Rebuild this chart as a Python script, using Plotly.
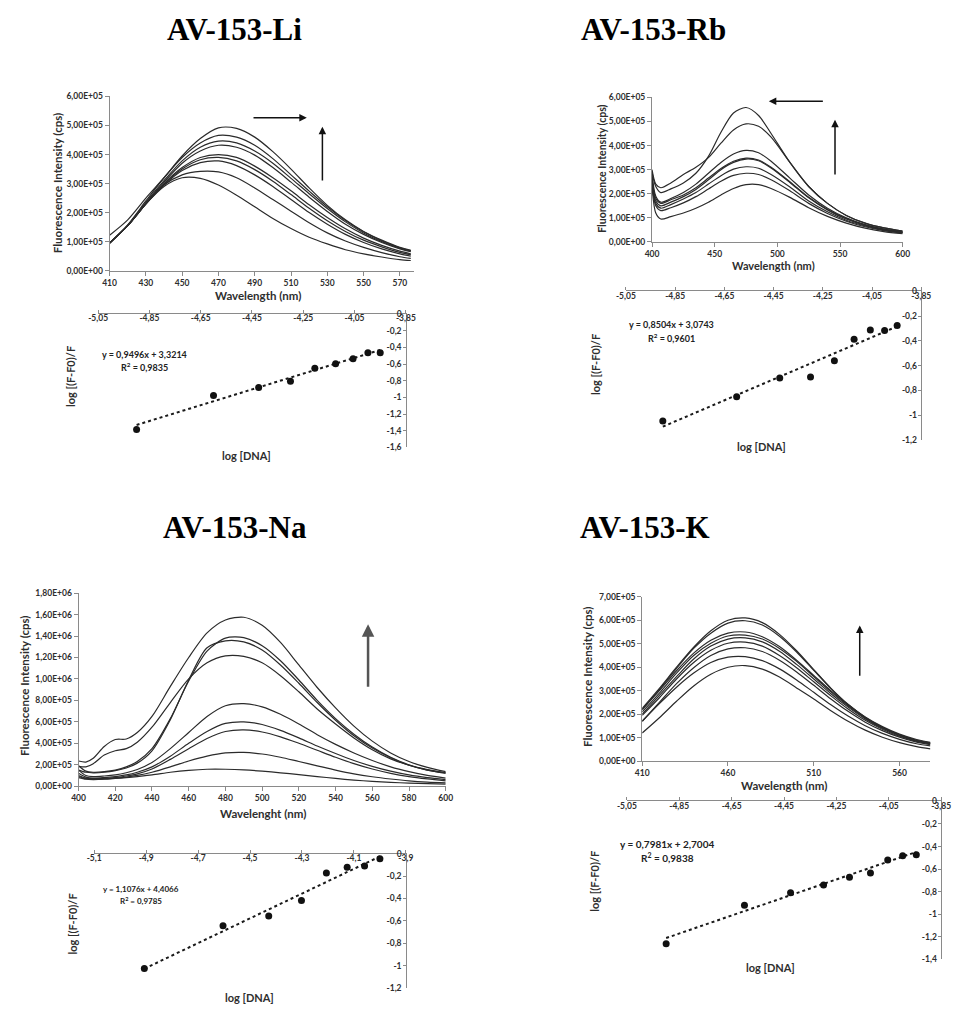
import plotly.graph_objects as go

FIG_W, FIG_H = 959, 1010

# ---------------- AV-153-Li ----------------
li_wavelength = [410, 420, 430, 440, 450, 460, 470, 480, 490, 500, 510, 520, 530, 540, 550, 560, 570, 576]
# emission intensity, units of 1e5 cps
li_intensity = [
    [1.22, 1.75, 2.50, 3.20, 3.95, 4.55, 4.92, 4.90, 4.60, 4.10, 3.50, 2.85, 2.25, 1.75, 1.35, 1.05, 0.80, 0.70],
    [0.95, 1.58, 2.40, 3.20, 3.90, 4.40, 4.66, 4.60, 4.32, 3.86, 3.30, 2.74, 2.20, 1.73, 1.34, 1.03, 0.79, 0.69],
    [0.95, 1.55, 2.35, 3.10, 3.78, 4.25, 4.46, 4.40, 4.12, 3.70, 3.18, 2.65, 2.14, 1.68, 1.30, 1.00, 0.77, 0.67],
    [0.95, 1.55, 2.32, 3.05, 3.70, 4.12, 4.32, 4.25, 3.98, 3.55, 3.05, 2.53, 2.04, 1.60, 1.25, 0.97, 0.75, 0.65],
    [0.95, 1.55, 2.30, 3.00, 3.55, 3.90, 4.00, 3.90, 3.60, 3.20, 2.75, 2.27, 1.83, 1.44, 1.12, 0.87, 0.67, 0.58],
    [0.95, 1.55, 2.30, 2.98, 3.50, 3.82, 3.90, 3.78, 3.48, 3.08, 2.62, 2.15, 1.72, 1.35, 1.05, 0.82, 0.63, 0.55],
    [0.95, 1.55, 2.30, 2.95, 3.45, 3.72, 3.78, 3.62, 3.30, 2.90, 2.45, 2.00, 1.60, 1.25, 0.97, 0.75, 0.58, 0.50],
    [0.95, 1.55, 2.30, 2.95, 3.30, 3.42, 3.40, 3.20, 2.85, 2.45, 2.05, 1.65, 1.30, 1.02, 0.80, 0.62, 0.48, 0.42],
    [0.95, 1.55, 2.30, 2.90, 3.20, 3.18, 2.95, 2.60, 2.20, 1.80, 1.45, 1.15, 0.92, 0.72, 0.58, 0.47, 0.38, 0.35],
]
li_log_dna = [-4.90, -4.60, -4.424, -4.30, -4.205, -4.124, -4.056, -3.998, -3.95]
li_log_f = [-1.386, -0.976, -0.881, -0.806, -0.651, -0.596, -0.536, -0.464, -0.464]
li_fit = (0.9496, 3.3214, 0.9835)

# ---------------- AV-153-Rb ----------------
rb_wavelength = [400, 403, 407, 415, 425, 435, 445, 455, 465, 475, 485, 495, 510, 525, 540, 555, 570, 585, 600]
rb_intensity = [
    [2.90, 2.30, 2.05, 2.20, 2.45, 2.85, 3.55, 4.55, 5.35, 5.58, 5.25, 4.50, 3.30, 2.30, 1.60, 1.10, 0.78, 0.58, 0.45],
    [3.00, 2.40, 2.25, 2.45, 2.80, 3.10, 3.50, 4.10, 4.65, 4.90, 4.80, 4.35, 3.30, 2.30, 1.60, 1.10, 0.78, 0.58, 0.45],
    [2.80, 1.90, 1.65, 1.80, 2.05, 2.40, 2.85, 3.30, 3.65, 3.80, 3.70, 3.35, 2.65, 1.95, 1.40, 1.00, 0.72, 0.53, 0.42],
    [2.70, 1.80, 1.60, 1.75, 1.95, 2.25, 2.65, 3.05, 3.35, 3.48, 3.40, 3.10, 2.50, 1.85, 1.35, 0.97, 0.70, 0.52, 0.40],
    [2.60, 1.70, 1.50, 1.65, 1.88, 2.18, 2.58, 3.00, 3.30, 3.44, 3.37, 3.07, 2.47, 1.83, 1.33, 0.95, 0.69, 0.51, 0.40],
    [2.50, 1.60, 1.40, 1.55, 1.78, 2.05, 2.40, 2.75, 3.02, 3.12, 3.06, 2.80, 2.28, 1.70, 1.25, 0.90, 0.66, 0.49, 0.38],
    [2.40, 1.50, 1.30, 1.42, 1.62, 1.88, 2.20, 2.52, 2.76, 2.85, 2.80, 2.58, 2.12, 1.60, 1.18, 0.86, 0.63, 0.47, 0.37],
    [2.30, 1.20, 0.95, 1.05, 1.20, 1.40, 1.65, 1.95, 2.22, 2.38, 2.38, 2.22, 1.85, 1.42, 1.06, 0.78, 0.57, 0.43, 0.34],
]
rb_log_dna = [-4.90, -4.60, -4.425, -4.30, -4.203, -4.123, -4.057, -3.999, -3.948]
rb_log_f = [-1.046, -0.851, -0.699, -0.691, -0.560, -0.387, -0.312, -0.315, -0.275]
rb_fit = (0.8504, 3.0743, 0.9601)

# ---------------- AV-153-Na ----------------
na_wavelength = [400, 404, 408, 414, 420, 426, 432, 440, 450, 460, 470, 480, 490, 500, 510, 520, 530, 540, 550, 560, 570, 580, 590, 600]
na_intensity = [
    [2.35, 2.25, 2.60, 3.70, 4.35, 4.40, 5.00, 6.50, 9.30, 12.0, 14.3, 15.5, 15.75, 15.0, 13.4, 11.3, 9.20, 7.30, 5.60, 4.20, 3.10, 2.30, 1.75, 1.35],
    [1.85, 1.80, 2.10, 2.90, 3.30, 3.50, 4.10, 5.50, 7.80, 10.0, 11.5, 12.15, 12.1, 11.5, 10.3, 8.80, 7.20, 5.80, 4.50, 3.40, 2.55, 1.95, 1.50, 1.20],
    [1.90, 1.40, 1.30, 1.35, 1.50, 1.80, 2.30, 3.50, 6.30, 9.80, 12.6, 13.8, 13.85, 13.1, 11.7, 9.90, 8.00, 6.30, 4.85, 3.65, 2.70, 2.00, 1.55, 1.25],
    [1.50, 1.30, 1.25, 1.30, 1.45, 1.70, 2.15, 3.30, 6.20, 9.90, 12.9, 13.55, 13.45, 12.7, 11.3, 9.60, 7.80, 6.15, 4.70, 3.55, 2.65, 1.95, 1.50, 1.25],
    [1.50, 1.00, 0.90, 0.95, 1.05, 1.25, 1.55, 2.20, 3.50, 5.00, 6.50, 7.50, 7.70, 7.40, 6.70, 5.80, 4.80, 3.90, 3.10, 2.40, 1.80, 1.35, 1.00, 0.75],
    [1.20, 0.85, 0.75, 0.80, 0.90, 1.05, 1.30, 1.80, 2.80, 4.00, 5.10, 5.85, 6.00, 5.75, 5.20, 4.50, 3.75, 3.05, 2.40, 1.85, 1.40, 1.05, 0.80, 0.62],
    [1.00, 0.75, 0.70, 0.72, 0.80, 0.95, 1.15, 1.60, 2.50, 3.50, 4.45, 5.10, 5.25, 5.05, 4.60, 4.00, 3.35, 2.70, 2.10, 1.60, 1.20, 0.90, 0.68, 0.50],
    [0.90, 0.70, 0.65, 0.68, 0.75, 0.85, 1.00, 1.30, 1.80, 2.35, 2.80, 3.10, 3.15, 3.00, 2.70, 2.30, 1.90, 1.50, 1.15, 0.88, 0.67, 0.50, 0.38, 0.30],
    [0.80, 0.65, 0.62, 0.65, 0.72, 0.80, 0.90, 1.05, 1.30, 1.48, 1.58, 1.58, 1.52, 1.40, 1.25, 1.08, 0.90, 0.72, 0.57, 0.45, 0.36, 0.29, 0.24, 0.20],
]
na_log_dna = [-4.907, -4.604, -4.428, -4.302, -4.206, -4.126, -4.059, -4.000]
na_log_f = [-1.026, -0.645, -0.556, -0.417, -0.172, -0.121, -0.110, -0.044]
na_fit = (1.1076, 4.4066, 0.9785)

# ---------------- AV-153-K ----------------
k_wavelength = [410, 420, 430, 440, 450, 460, 470, 480, 490, 500, 510, 520, 530, 540, 550, 560, 570, 578]
k_intensity = [
    [2.25, 3.10, 4.00, 4.85, 5.55, 6.00, 6.10, 5.90, 5.40, 4.70, 3.90, 3.10, 2.40, 1.85, 1.42, 1.10, 0.87, 0.75],
    [2.20, 3.05, 3.95, 4.80, 5.45, 5.88, 5.98, 5.80, 5.32, 4.65, 3.87, 3.10, 2.42, 1.87, 1.44, 1.12, 0.88, 0.77],
    [2.20, 3.00, 3.85, 4.60, 5.15, 5.45, 5.50, 5.30, 4.88, 4.30, 3.65, 3.00, 2.40, 1.88, 1.47, 1.15, 0.92, 0.80],
    [2.10, 2.90, 3.75, 4.50, 5.02, 5.33, 5.37, 5.20, 4.80, 4.25, 3.60, 2.95, 2.35, 1.84, 1.43, 1.12, 0.89, 0.78],
    [2.00, 2.80, 3.60, 4.35, 4.90, 5.20, 5.25, 5.08, 4.68, 4.12, 3.50, 2.87, 2.30, 1.80, 1.40, 1.10, 0.87, 0.76],
    [1.95, 2.70, 3.50, 4.20, 4.72, 5.02, 5.07, 4.90, 4.50, 3.98, 3.38, 2.78, 2.22, 1.74, 1.36, 1.06, 0.84, 0.73],
    [1.70, 2.50, 3.30, 3.98, 4.50, 4.78, 4.83, 4.67, 4.30, 3.80, 3.23, 2.65, 2.12, 1.66, 1.30, 1.02, 0.81, 0.70],
    [1.70, 2.45, 3.15, 3.75, 4.20, 4.43, 4.45, 4.28, 3.93, 3.46, 2.93, 2.40, 1.92, 1.51, 1.18, 0.93, 0.74, 0.65],
    [1.20, 1.85, 2.55, 3.20, 3.70, 4.00, 4.07, 3.92, 3.58, 3.12, 2.65, 2.15, 1.70, 1.32, 1.02, 0.79, 0.62, 0.52],
]
k_log_dna = [-4.900, -4.601, -4.425, -4.299, -4.200, -4.120, -4.054, -3.997, -3.945]
k_log_f = [-1.262, -0.920, -0.810, -0.740, -0.672, -0.634, -0.520, -0.482, -0.473]
k_fit = (0.7981, 2.7004, 0.9838)

# ---------------- tick labels ----------------
li_wl_ticks = [410, 430, 450, 470, 490, 510, 530, 550, 570]
rb_wl_ticks = [400, 450, 500, 550, 600]
na_wl_ticks = [400, 420, 440, 460, 480, 500, 520, 540, 560, 580, 600]
k_wl_ticks = [410, 460, 510, 560]
li_int_ticks = [0, 1e5, 2e5, 3e5, 4e5, 5e5, 6e5]
li_int_labels = ["0,00E+00", "1,00E+05", "2,00E+05", "3,00E+05", "4,00E+05", "5,00E+05", "6,00E+05"]
na_int_ticks = [0, 2e5, 4e5, 6e5, 8e5, 1e6, 1.2e6, 1.4e6, 1.6e6, 1.8e6]
na_int_labels = ["0,00E+00", "2,00E+05", "4,00E+05", "6,00E+05", "8,00E+05",
                 "1,00E+06", "1,20E+06", "1,40E+06", "1,60E+06", "1,80E+06"]
k_int_ticks = [0, 1e5, 2e5, 3e5, 4e5, 5e5, 6e5, 7e5]
k_int_labels = ["0,00E+00", "1,00E+05", "2,00E+05", "3,00E+05", "4,00E+05", "5,00E+05", "6,00E+05", "7,00E+05"]
dna_ticks_a = [-5.05, -4.85, -4.65, -4.45, -4.25, -4.05, -3.85]
dna_labels_a = ["-5,05", "-4,85", "-4,65", "-4,45", "-4,25", "-4,05", "-3,85"]
dna_ticks_b = [-5.1, -4.9, -4.7, -4.5, -4.3, -4.1, -3.9]
dna_labels_b = ["-5,1", "-4,9", "-4,7", "-4,5", "-4,3", "-4,1", "-3,9"]
logf_ticks = [0, -0.2, -0.4, -0.6, -0.8, -1.0, -1.2, -1.4, -1.6]
logf_labels = ["0", "-0,2", "-0,4", "-0,6", "-0,8", "-1", "-1,2", "-1,4", "-1,6"]

# ---------------- helpers ----------------
AXIS_GREY = "#8a8a8a"
TEXT_GREY = "#2e2e2e"
EXCEL_FONT = "Lato"


def xdom(left, right):
    return [left / FIG_W, right / FIG_W]


def ydom(top, bottom):
    return [1 - bottom / FIG_H, 1 - top / FIG_H]


def px(x):
    return x / FIG_W


def py(y):
    return 1 - y / FIG_H


fig = go.Figure()
layout = {}
annotations = []


def spectrum_panel(n, wl, curves, xr, xdomain, ydomain, xticks, yr, yticks, ylabels):
    xa, ya = f"x{n}", f"y{n}"
    for c in curves:
        fig.add_trace(go.Scatter(
            x=wl, y=[v * 1e5 for v in c], mode="lines", xaxis=xa, yaxis=ya,
            line=dict(color="#2b2b2b", width=1.2, shape="spline", smoothing=0.8),
            showlegend=False, hoverinfo="skip"))
    common = dict(showline=True, linecolor=AXIS_GREY, linewidth=1, ticks="outside",
                  ticklen=4, tickcolor=AXIS_GREY, showgrid=False, zeroline=False,
                  tickfont=dict(family=EXCEL_FONT, size=8.5, color=TEXT_GREY, weight="bold"))
    layout[f"xaxis{n}"] = dict(common, domain=xdomain, anchor=ya, range=xr,
                               tickmode="array", tickvals=xticks, ticktext=[str(t) for t in xticks])
    layout[f"yaxis{n}"] = dict(common, domain=ydomain, anchor=xa, range=yr,
                               tickmode="array", tickvals=yticks, ticktext=ylabels)


def binding_panel(n, xs, ys, fit, xr, xdomain, ydomain, xticks, xlabels, ybottom):
    xa, ya = f"x{n}", f"y{n}"
    slope, icpt, _ = fit
    x0, x1 = min(xs), max(xs)
    fig.add_trace(go.Scatter(
        x=[x0, x1], y=[slope * x0 + icpt, slope * x1 + icpt], mode="lines",
        xaxis=xa, yaxis=ya, line=dict(color="#1a1a1a", width=2, dash="dot"),
        showlegend=False, hoverinfo="skip", cliponaxis=True))
    fig.add_trace(go.Scatter(
        x=xs, y=ys, mode="markers", xaxis=xa, yaxis=ya,
        marker=dict(color="#111111", size=7), showlegend=False, hoverinfo="skip",
        cliponaxis=False))
    nt = int(round(-ybottom / 0.2)) + 1
    common = dict(showline=True, linecolor=AXIS_GREY, linewidth=1, showgrid=False,
                  zeroline=False, ticklabeloverflow="allow",
                  tickfont=dict(family=EXCEL_FONT, size=8.5, color=TEXT_GREY, weight="bold"))
    layout[f"xaxis{n}"] = dict(common, domain=xdomain, anchor=ya, range=xr, side="top",
                               ticks="outside", ticklen=3, tickcolor=AXIS_GREY,
                               ticklabelposition="inside", tickmode="array",
                               tickvals=xticks, ticktext=xlabels)
    layout[f"yaxis{n}"] = dict(common, domain=ydomain, anchor=xa, range=[ybottom, 0],
                               side="right", ticks="inside", ticklen=3, tickcolor=AXIS_GREY,
                               ticklabelposition="inside", tickmode="array",
                               tickvals=logf_ticks[:nt], ticktext=logf_labels[:nt])


def text(x, y, s, size, family=EXCEL_FONT, bold=False, angle=0, anchor="center", color=TEXT_GREY):
    annotations.append(dict(
        x=px(x), y=py(y), xref="paper", yref="paper", text=s, showarrow=False,
        textangle=angle, xanchor=anchor, yanchor="middle",
        font=dict(family=family, size=size, color=color, weight="bold" if bold else "normal")))


def equation(x, y, fit, size):
    slope, icpt, r2 = fit
    line1 = f"y = {slope:.4f}x + {icpt:.4f}".replace(".", ",")
    line2 = f"R<sup>2</sup> = {r2:.4f}".replace(".", ",")
    text(x, y, line1, size, bold=True, color="#222")
    text(x, y + size * 1.45, line2, size, bold=True, color="#222")


def arrow(n, tail, head, color="#111", width=1.5):
    annotations.append(dict(
        xref=f"x{n}", yref=f"y{n}", axref=f"x{n}", ayref=f"y{n}",
        x=head[0], y=head[1], ax=tail[0], ay=tail[1], text="", showarrow=True,
        arrowhead=2, arrowsize=1, arrowwidth=width, arrowcolor=color))


# ---- panels ----
spectrum_panel(1, li_wavelength, li_intensity, [410, 578], xdom(101.7, 413), ydom(92.4, 268.3),
               li_wl_ticks, [0, 6e5], li_int_ticks, li_int_labels)
binding_panel(2, li_log_dna, li_log_f, li_fit, [-5.05, -3.85], xdom(90, 404.3), ydom(312.3, 446.7),
              dna_ticks_a, dna_labels_a, -1.6)
spectrum_panel(3, rb_wavelength, rb_intensity, [400, 600], xdom(655.7, 911.7), ydom(93.3, 239.3),
               rb_wl_ticks, [0, 6e5], li_int_ticks, li_int_labels)
binding_panel(4, rb_log_dna, rb_log_f, rb_fit, [-5.05, -3.85], xdom(629, 930.7), ydom(289.3, 439.3),
              dna_ticks_a, dna_labels_a, -1.2)
spectrum_panel(5, na_wavelength, na_intensity, [400, 600], xdom(70, 445), ydom(594, 789),
               na_wl_ticks, [0, 1.8e6], na_int_ticks, na_int_labels)
binding_panel(6, na_log_dna, na_log_f, na_fit, [-5.1, -3.9], xdom(86, 404.3), ydom(857.3, 992.7),
              dna_ticks_b, dna_labels_b, -1.2)
spectrum_panel(7, k_wavelength, k_intensity, [410, 578], xdom(645.7, 940), ydom(597.7, 763.7),
               k_wl_ticks, [0, 7e5], k_int_ticks, k_int_labels)
binding_panel(8, k_log_dna, k_log_f, k_fit, [-5.05, -3.85], xdom(630, 951), ydom(804.3, 964),
              dna_ticks_a, dna_labels_a, -1.4)

# ---- titles ----
SERIF = "Liberation Serif"
text(158, 25, "AV-153-Li", 31, family=SERIF, bold=True, anchor="left", color="#000")
text(581, 25, "AV-153-Rb", 31, family=SERIF, bold=True, anchor="left", color="#000")
text(154, 528, "AV-153-Na", 31, family=SERIF, bold=True, anchor="left", color="#000")
text(580, 528, "AV-153-K", 31, family=SERIF, bold=True, anchor="left", color="#000")

# ---- axis titles ----
SPEC_T = 11.5
text(48, 180, "Fluorescence Intensity (cps)", SPEC_T, bold=True, angle=-90)
text(253, 293, "Wavelength (nm)", SPEC_T, bold=True)
text(62, 375, "log [(F-F0)/F", 11, bold=True, angle=-90)
text(242, 455, "log [DNA]", 11, bold=True)

text(605, 165, "Fluorescence Intensity (cps)", 10.5, bold=True, angle=-90)
text(780, 263, "Wavelength (nm)", 11, bold=True)
text(598, 363, "log [(F-F0)/F", 11, bold=True, angle=-90)
text(767, 446, "log [DNA]", 11, bold=True)

text(15, 688, "Fluorescence Intensity (cps)", SPEC_T, bold=True, angle=-90)
text(258, 817, "Wavelenght (nm)", SPEC_T, bold=True)
text(64, 928, "log [(F-F0)/F", 11, bold=True, angle=-90)
text(245, 1002, "log [DNA]", 11, bold=True)

text(590, 679, "Fluorescence Intensity (cps)", SPEC_T, bold=True, angle=-90)
text(790, 788, "Wavelength (nm)", SPEC_T, bold=True)
text(597, 885, "log [(F-F0)/F", 11, bold=True, angle=-90)
text(777, 972, "log [DNA]", 11, bold=True)

# ---- fit equations ----
equation(137, 353, li_fit, 9)
equation(676, 323, rb_fit, 9)
equation(134, 893, na_fit, 8)
equation(671, 847, k_fit, 10)

# ---- trend arrows ----
arrow(1, (488.5, 5.27e5), (518.7, 5.27e5))
arrow(1, (527.3, 3.05e5), (527.3, 4.96e5))
arrow(3, (537.5, 5.84e5), (493.2, 5.84e5))
arrow(3, (546, 2.74e5), (546, 5.07e5))
arrow(5, (557.7, 9.14e5), (557.7, 1.51e6), color="#555", width=2.5)
arrow(7, (536.8, 3.57e5), (536.8, 5.78e5))

fig.update_layout(
    width=FIG_W, height=FIG_H, margin=dict(l=0, r=0, t=0, b=0),
    paper_bgcolor="white", plot_bgcolor="white", showlegend=False,
    annotations=annotations, **layout)

fig.write_html("out.html")
